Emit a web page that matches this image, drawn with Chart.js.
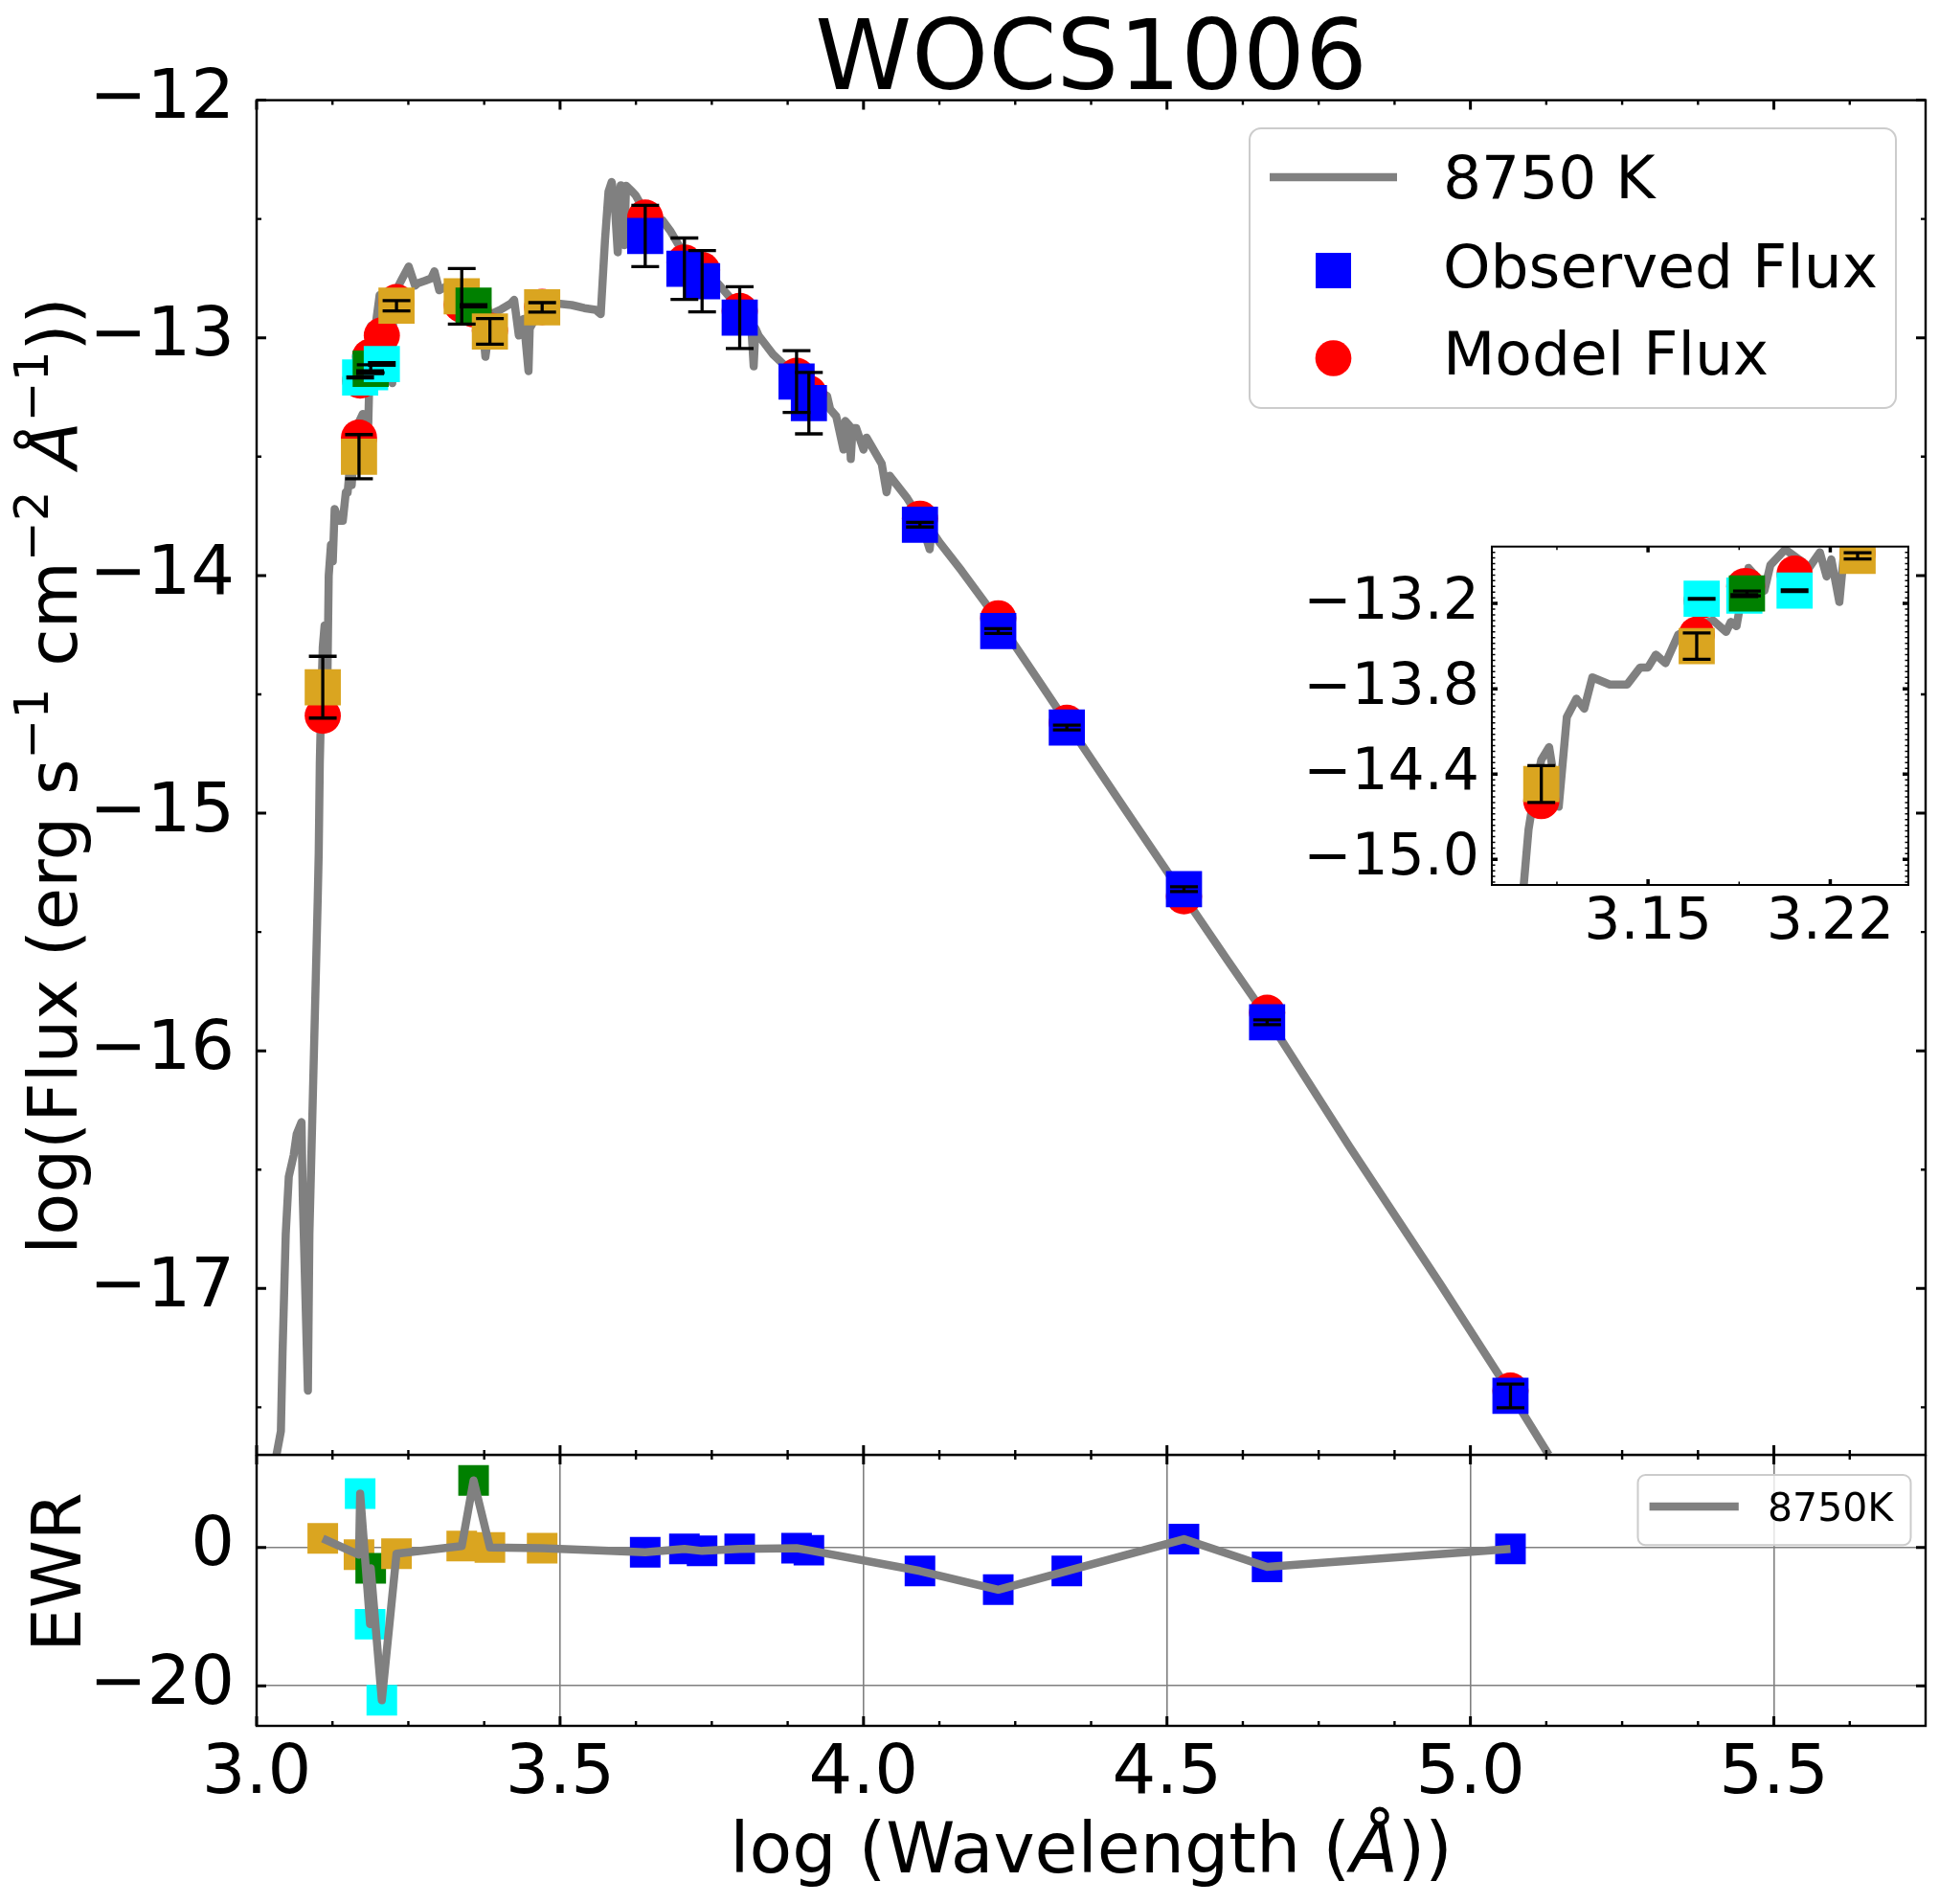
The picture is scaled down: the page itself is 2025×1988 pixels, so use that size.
<!DOCTYPE html>
<html>
<head>
<meta charset="utf-8">
<title>WOCS1006 SED</title>
<script src="https://cdn.jsdelivr.net/npm/chart.js@4.4.1/dist/chart.umd.min.js"></script>
<style>
  body { margin: 0; background: #fff; }
  #page { position: relative; width: 2025px; height: 1988px; background: #fff; overflow: hidden; }
  #page canvas { position: absolute; }
</style>
</head>
<body>
<div id="page">
  <canvas id="sed" width="2025" height="1600" style="left:0;top:0"></canvas>
  <canvas id="ewr" width="2025" height="469" style="left:0;top:1519px"></canvas>
  <canvas id="zoom" width="710" height="470" style="left:1300px;top:540px"></canvas>
</div>
<script>
//===========================================================================================
// ~~ DATA ~~

// model spectrum, 8750 K : log wavelength / log flux
var specX = [3.032, 3.040, 3.0427, 3.048, 3.053, 3.061, 3.066, 3.074, 3.076, 3.0845,
  3.087, 3.095, 3.1006, 3.1023, 3.1041, 3.1065, 3.109, 3.112, 3.1157, 3.1188,
  3.1225, 3.1255, 3.1286, 3.1353, 3.142, 3.147, 3.150, 3.153, 3.1567, 3.1616,
  3.1676, 3.175, 3.180, 3.1818, 3.184, 3.186, 3.1886, 3.191, 3.1947, 3.197,
  3.2027, 3.2094, 3.2118, 3.216, 3.2186, 3.2204, 3.2235, 3.2253, 3.232, 3.240,
  3.2506, 3.261, 3.2656, 3.277, 3.2875, 3.293, 3.301, 3.315, 3.330, 3.345,
  3.360, 3.370, 3.377, 3.3866, 3.403, 3.419, 3.4243, 3.432, 3.440, 3.448,
  3.450, 3.470, 3.493, 3.519, 3.540, 3.5587, 3.567, 3.574, 3.5798, 3.585,
  3.5894, 3.595, 3.600, 3.606, 3.6087, 3.619, 3.6245, 3.640, 3.669, 3.6824,
  3.700, 3.740, 3.7615, 3.790, 3.815, 3.819, 3.822, 3.827, 3.851, 3.880,
  3.910, 3.940, 3.945, 3.955, 3.967, 3.970, 3.977, 3.979, 3.982, 3.988,
  4.000, 4.005, 4.030, 4.038, 4.043, 4.072, 4.093, 4.109, 4.112, 4.125,
  4.1616, 4.222, 4.280, 4.335, 4.430, 4.528, 4.600, 4.665, 4.800, 4.950,
  5.066, 5.129];
var specY = [-17.71, -17.60, -17.27, -16.77, -16.53, -16.44, -16.35, -16.30, -16.61, -17.43,
  -16.77, -15.95, -15.37, -15.17, -14.79, -14.52, -14.30, -14.21, -14.63, -14.00,
  -13.87, -13.94, -13.72, -13.77, -13.77, -13.65, -13.65, -13.56, -13.62, -13.42,
  -13.36, -13.32, -13.40, -13.33, -13.36, -13.15, -12.95, -13.00, -13.11, -12.93,
  -12.82, -12.91, -12.95, -12.84, -13.01, -12.89, -13.19, -12.84, -12.79, -12.75,
  -12.70, -12.78, -12.77, -12.76, -12.75, -12.72, -12.80, -12.78, -12.82, -12.80,
  -12.85, -12.88, -13.08, -12.90, -12.88, -12.855, -12.84, -12.99, -12.92, -13.14,
  -12.96, -12.87, -12.855, -12.862, -12.875, -12.882, -12.90, -12.59, -12.385, -12.344,
  -12.41, -12.64, -12.358, -12.61, -12.36, -12.385, -12.40, -12.47, -12.506, -12.553,
  -12.63, -12.72, -12.775, -12.86, -12.95, -13.12, -12.96, -12.99, -13.07, -13.14,
  -13.20, -13.245, -13.30, -13.33, -13.47, -13.35, -13.37, -13.51, -13.38, -13.38,
  -13.47, -13.42, -13.53, -13.65, -13.58, -13.675, -13.76, -13.89, -13.81, -13.86,
  -13.98, -14.19, -14.41, -14.62, -14.98, -15.35, -15.62, -15.86, -16.40, -16.98,
  -17.44, -17.70];

// photometry, sorted by wavelength
var obsX = [3.109, 3.1687, 3.1706, 3.187, 3.188, 3.2063, 3.2305, 3.338, 3.3575, 3.3844,
  3.4705, 3.6403, 3.7049, 3.734, 3.796, 3.8897, 3.910, 4.093, 4.222, 4.335,
  4.528, 4.665, 5.066];
var obsY = [-14.47, -13.50, -13.167, -13.145, -13.13, -13.11, -12.865, -12.825, -12.865, -12.973,
  -12.872, -12.571, -12.709, -12.762, -12.915, -13.184, -13.275, -13.786, -14.234, -14.64,
  -15.32, -15.88, -17.452];
var obsErr = [0.13, 0.093, 0.002, 0.006, 0.017, 0.0055, 0.022, 0.117, 0.004, 0.054,
  0.02, 0.129, 0.129, 0.129, 0.13, 0.13, 0.129, 0.01, 0.01, 0.01,
  0.01, 0.01, 0.05];
var obsBand = ['gold', 'gold', 'cyan', 'cyan', 'green', 'cyan', 'gold', 'gold', 'green', 'gold',
  'gold', 'blue', 'blue', 'blue', 'blue', 'blue', 'blue', 'blue', 'blue', 'blue',
  'blue', 'blue', 'blue'];
var modelY = [-14.59, -13.42, -13.18, -13.08, -13.08, -12.99, -12.85, -12.86, -12.88, -12.97,
  -12.87, -12.494, -12.683, -12.715, -12.887, -13.16, -13.234, -13.761, -14.18, -14.62,
  -15.35, -15.84, -17.43];
var ewr = [1.3, -1.05, 7.8, -11.1, -3.0, -22.1, -0.9, 0.2, 9.7, 0.0,
  -0.1, -0.7, -0.2, -0.5, -0.2, -0.1, -0.4, -3.4, -6.1, -3.4,
  1.2, -2.8, -0.2];

// ticks
var xTicks = [3.0, 3.5, 4.0, 4.5, 5.0, 5.5];
var xMinor = [3.125, 3.25, 3.375, 3.625, 3.75, 3.875, 4.125, 4.25, 4.375, 4.625, 4.75, 4.875,
  5.125, 5.25, 5.375, 5.625];
var fluxTicks = [-17, -16, -15, -14, -13, -12];
var fluxMinor = [-17.5, -16.5, -15.5, -14.5, -13.5, -12.5];
var ewrTicks = [-20, 0];
var zoomXTicks = [3.15, 3.22];
var zoomXMinor = [3.115, 3.185];
var zoomYTicks = [-15.0, -14.4, -13.8, -13.2];


//===========================================================================================
// ~~ HELPERS ~~

Chart.defaults.font.family = '"DejaVu Sans", sans-serif';
Chart.defaults.color = '#000';
Chart.defaults.animation = false;
Chart.defaults.events = [];
Chart.defaults.plugins.legend.display = false;
Chart.defaults.plugins.tooltip.enabled = false;

var GRAY = '#808080';
var bandColor = { gold: '#DAA520', cyan: '#00FFFF', green: '#008000', blue: '#0000FF' };

function fmt(d) {
  return function (v) { return (v < 0 ? '\u2212' : '') + Math.abs(v).toFixed(d); };
}
function pts(xs, ys) {
  return xs.map(function (x, i) { return { x: x, y: ys[i] }; });
}
function setTicks(list) {
  return function (scale) { scale.ticks = list.map(function (v) { return { value: v }; }); };
}
function fixWidth(w) {
  return function (s) { s.width = w; s.paddingTop = 0; s.paddingBottom = 0; };
}
function fixHeight(h) {
  return function (s) { s.height = h; s.paddingLeft = 0; s.paddingRight = 0; };
}
function steps(from, to, step) {
  var out = [];
  for (var v = from; v <= to + 1e-9; v += step) out.push(Math.round(v * 1000) / 1000);
  return out;
}

function drawRich(ctx, parts, cx, cy, rot, size) {
  ctx.save();
  ctx.translate(cx, cy);
  ctx.rotate(rot);
  var fontOf = function (p) {
    return (p.it ? 'italic ' : '') + Math.round(size * (p.sup ? 0.7 : 1)) + 'px "DejaVu Sans"';
  };
  var total = 0;
  parts.forEach(function (p) { ctx.font = fontOf(p); p.w = ctx.measureText(p.t).width; total += p.w; });
  var x = -total / 2;
  ctx.fillStyle = '#000';
  ctx.textAlign = 'left';
  ctx.textBaseline = 'alphabetic';
  parts.forEach(function (p) {
    ctx.font = fontOf(p);
    ctx.fillText(p.t, x, p.sup ? -size * 0.42 : 0);
    x += p.w;
  });
  ctx.restore();
}

function roundBox(ctx, x, y, w, h, r) {
  ctx.beginPath();
  ctx.moveTo(x + r, y);
  ctx.arcTo(x + w, y, x + w, y + h, r);
  ctx.arcTo(x + w, y + h, x, y + h, r);
  ctx.arcTo(x, y + h, x, y, r);
  ctx.arcTo(x, y, x + w, y, r);
  ctx.closePath();
}


//===========================================================================================
// ~~ PLUGINS ~~

// spines + inward ticks on all four sides
var framePlugin = {
  id: 'frame',
  afterDraw: function (chart, args, o) {
    var ctx = chart.ctx, a = chart.chartArea;
    var xs = chart.scales.x, ys = chart.scales.y;
    ctx.save();
    ctx.strokeStyle = '#000';
    var xMarks = function (vals, len, w) {
      ctx.lineWidth = w;
      ctx.beginPath();
      vals.forEach(function (v) {
        var p = xs.getPixelForValue(v);
        ctx.moveTo(p, a.bottom); ctx.lineTo(p, a.bottom - len);
        ctx.moveTo(p, a.top); ctx.lineTo(p, a.top + len);
      });
      ctx.stroke();
    };
    var yMarks = function (vals, len, w) {
      ctx.lineWidth = w;
      ctx.beginPath();
      vals.forEach(function (v) {
        var p = ys.getPixelForValue(v);
        ctx.moveTo(a.left, p); ctx.lineTo(a.left + len, p);
        ctx.moveTo(a.right, p); ctx.lineTo(a.right - len, p);
      });
      ctx.stroke();
    };
    xMarks(o.xMinor || [], o.minor[0], o.minor[1]);
    yMarks(o.yMinor || [], o.minor[0], o.minor[1]);
    xMarks(o.xMajor || [], o.major[0], o.major[1]);
    yMarks(o.yMajor || [], o.major[0], o.major[1]);
    ctx.lineWidth = o.spine;
    ctx.strokeRect(a.left, a.top, a.right - a.left, a.bottom - a.top);
    ctx.restore();
  }
};

// black error bars with caps
var errorBarPlugin = {
  id: 'errorbars',
  afterDatasetsDraw: function (chart, args, o) {
    if (!o.show) return;
    var ctx = chart.ctx, a = chart.chartArea;
    var xs = chart.scales.x, ys = chart.scales.y;
    ctx.save();
    ctx.beginPath();
    ctx.rect(a.left, a.top, a.right - a.left, a.bottom - a.top);
    ctx.clip();
    ctx.strokeStyle = '#000';
    ctx.lineWidth = o.width;
    obsX.forEach(function (v, i) {
      var px = xs.getPixelForValue(v);
      var top = ys.getPixelForValue(obsY[i] + obsErr[i]);
      var bot = ys.getPixelForValue(obsY[i] - obsErr[i]);
      ctx.beginPath();
      ctx.moveTo(px, top); ctx.lineTo(px, bot);
      ctx.moveTo(px - o.cap, top); ctx.lineTo(px + o.cap, top);
      ctx.moveTo(px - o.cap, bot); ctx.lineTo(px + o.cap, bot);
      ctx.stroke();
    });
    ctx.restore();
  }
};

// framed legend, labels taken from the datasets
var boxLegendPlugin = {
  id: 'boxLegend',
  afterDraw: function (chart, args, o) {
    if (!o.box) return;
    var ctx = chart.ctx, b = o.box;
    ctx.save();
    roundBox(ctx, b.x, b.y, b.w, b.h, b.r);
    ctx.fillStyle = 'rgba(255,255,255,0.8)';
    ctx.fill();
    ctx.lineWidth = 2;
    ctx.strokeStyle = '#cccccc';
    ctx.stroke();
    o.rows.forEach(function (r) {
      var ds = chart.data.datasets[r.ds];
      if (r.kind === 'line') {
        ctx.strokeStyle = ds.borderColor;
        ctx.lineWidth = ds.borderWidth;
        ctx.beginPath(); ctx.moveTo(r.x0, r.y); ctx.lineTo(r.x1, r.y); ctx.stroke();
      } else if (r.kind === 'rect') {
        ctx.fillStyle = r.color;
        ctx.fillRect(r.cx - r.s / 2, r.y - r.s / 2, r.s, r.s);
      } else {
        ctx.fillStyle = r.color;
        ctx.beginPath(); ctx.arc(r.cx, r.y, r.s / 2, 0, 2 * Math.PI); ctx.fill();
      }
      ctx.fillStyle = '#000';
      ctx.font = o.size + 'px "DejaVu Sans"';
      ctx.textAlign = 'left';
      ctx.textBaseline = 'alphabetic';
      ctx.fillText(ds.label, o.tx, r.base);
    });
    ctx.restore();
  }
};

// titles / axis labels
var textPlugin = {
  id: 'texts',
  afterDraw: function (chart, args, o) {
    (o.items || []).forEach(function (it) {
      drawRich(chart.ctx, it.parts, it.x, it.y, it.rot || 0, it.size);
    });
  }
};

var whitePanel = {
  id: 'whitePanel',
  beforeDraw: function (chart) {
    var a = chart.chartArea, ctx = chart.ctx;
    ctx.save();
    ctx.fillStyle = '#fff';
    ctx.fillRect(a.left, a.top, a.right - a.left, a.bottom - a.top);
    ctx.restore();
  }
};

function sedDatasets() {
  return [
    { label: '8750 K', data: pts(specX, specY), showLine: true, borderColor: GRAY, borderWidth: 8.5,
      pointRadius: 0, tension: 0, borderJoinStyle: 'round', clip: 0, order: 3 },
    { label: 'Observed Flux', data: pts(obsX, obsY), pointStyle: 'rect', pointRadius: 26.7,
      pointBackgroundColor: obsBand.map(function (b) { return bandColor[b]; }),
      pointBorderWidth: 0, clip: 0, order: 1 },
    { label: 'Model Flux', data: pts(obsX, modelY), pointStyle: 'circle', pointRadius: 18.9,
      pointBackgroundColor: '#FF0000', pointBorderWidth: 0, clip: 0, order: 2 }
  ];
}


//===========================================================================================
// ~~ MAIN PANEL ~~

new Chart(document.getElementById('sed'), {
  type: 'scatter',
  data: { datasets: sedDatasets() },
  plugins: [framePlugin, errorBarPlugin, boxLegendPlugin, textPlugin],
  options: {
    responsive: false,
    layout: { autoPadding: false, padding: { left: 0, top: 104.6, right: 14, bottom: 81 } },
    scales: {
      x: { type: 'linear', min: 3.0, max: 5.75, bounds: 'data', display: false },
      y: { type: 'linear', min: -17.7, max: -12, bounds: 'data',
        afterBuildTicks: setTicks(fluxTicks), afterFit: fixWidth(268),
        grid: { display: false, drawTicks: false }, border: { display: false },
        ticks: { callback: fmt(0), font: { size: 72 }, padding: 23 } }
    },
    plugins: {
      frame: { spine: 2.4, xMajor: xTicks, xMinor: xMinor, yMajor: fluxTicks, yMinor: fluxMinor,
        major: [10, 3], minor: [5, 2.4] },
      errorbars: { show: true, width: 3.3, cap: 14.5 },
      boxLegend: {
        box: { x: 1305, y: 134, w: 675, h: 292, r: 12 }, tx: 1507, size: 63,
        rows: [
          { ds: 0, kind: 'line', x0: 1326, x1: 1459, y: 185, base: 207 },
          { ds: 1, kind: 'rect', cx: 1392.5, y: 282.5, s: 37, color: bandColor.blue, base: 300 },
          { ds: 2, kind: 'circle', cx: 1392.5, y: 374, s: 37.7, color: '#FF0000', base: 391 }
        ]
      },
      texts: { items: [
        { parts: [{ t: 'WOCS1006' }], x: 1139.5, y: 93, size: 102 },
        { parts: [{ t: 'log(Flux (erg s' }, { t: '\u22121', sup: 1 }, { t: ' cm' }, { t: '\u22122', sup: 1 },
                  { t: ' ' }, { t: '\u00C5', it: 1 }, { t: '\u22121', sup: 1 }, { t: '))' }],
          x: 80, y: 810, rot: -Math.PI / 2, size: 72 }
      ] }
    }
  }
});


//===========================================================================================
// ~~ RESIDUAL PANEL (EWR) ~~

new Chart(document.getElementById('ewr'), {
  type: 'scatter',
  data: { datasets: [
    { label: '8750K', data: pts(obsX, ewr), showLine: true, borderColor: GRAY, borderWidth: 8.5,
      pointRadius: 0, tension: 0, borderJoinStyle: 'round', clip: 0, order: 0 },
    { label: 'EWR', data: pts(obsX, ewr), pointStyle: 'rect', pointRadius: 22.6,
      pointBackgroundColor: obsBand.map(function (b) { return bandColor[b]; }),
      pointBorderWidth: 0, clip: 0, order: 1 }
  ] },
  plugins: [framePlugin, boxLegendPlugin, textPlugin],
  options: {
    responsive: false,
    layout: { autoPadding: false, padding: { left: 0, top: 0, right: 14, bottom: 0 } },
    scales: {
      x: { type: 'linear', min: 3.0, max: 5.75, bounds: 'data',
        afterBuildTicks: setTicks(xTicks), afterFit: fixHeight(186),
        grid: { color: GRAY, lineWidth: 1.6, drawTicks: false }, border: { display: false },
        ticks: { callback: fmt(1), font: { size: 72 }, padding: 8, maxRotation: 0, minRotation: 0, autoSkip: false } },
      y: { type: 'linear', min: -25.8, max: 13.4, bounds: 'data',
        afterBuildTicks: setTicks(ewrTicks), afterFit: fixWidth(268),
        grid: { color: GRAY, lineWidth: 1.6, drawTicks: false }, border: { display: false },
        ticks: { callback: fmt(0), font: { size: 72 }, padding: 23 } }
    },
    plugins: {
      frame: { spine: 2.4, xMajor: xTicks, xMinor: xMinor, yMajor: ewrTicks, yMinor: [],
        major: [10, 3], minor: [5, 2.4] },
      boxLegend: {
        box: { x: 1710.5, y: 21, w: 285, h: 73.3, r: 8 }, tx: 1846, size: 41,
        rows: [ { ds: 0, kind: 'line', x0: 1722.6, x1: 1815.8, y: 54, base: 69.3 } ]
      },
      texts: { items: [
        { parts: [{ t: 'log (Wavelength (' }, { t: '\u00C5', it: 1 }, { t: '))' }], x: 1139.5, y: 436, size: 73 },
        { parts: [{ t: 'EWR' }], x: 84, y: 122.5, rot: -Math.PI / 2, size: 72 }
      ] }
    }
  }
});


//===========================================================================================
// ~~ INSET ~~

new Chart(document.getElementById('zoom'), {
  type: 'scatter',
  data: { datasets: sedDatasets() },
  plugins: [whitePanel, framePlugin, errorBarPlugin],
  options: {
    responsive: false,
    layout: { autoPadding: false, padding: { left: 0, top: 30.7, right: 17, bottom: 0 } },
    scales: {
      x: { type: 'linear', min: 3.09, max: 3.25, bounds: 'data',
        afterBuildTicks: setTicks(zoomXTicks), afterFit: fixHeight(86),
        grid: { display: false, drawTicks: false }, border: { display: false },
        ticks: { callback: fmt(2), font: { size: 60 }, padding: 4, maxRotation: 0, minRotation: 0, autoSkip: false } },
      y: { type: 'linear', min: -15.18, max: -12.80, bounds: 'data',
        afterBuildTicks: setTicks(zoomYTicks), afterFit: fixWidth(258),
        grid: { display: false, drawTicks: false }, border: { display: false },
        ticks: { callback: fmt(1), font: { size: 60 }, padding: 13 } }
    },
    plugins: {
      frame: { spine: 2, xMajor: zoomXTicks, xMinor: zoomXMinor, yMajor: zoomYTicks,
        yMinor: steps(-15.16, -12.84, 0.04), major: [6, 3.5], minor: [3.5, 1.5] },
      errorbars: { show: true, width: 3.3, cap: 14.5 }
    }
  }
});
</script>
</body>
</html>
